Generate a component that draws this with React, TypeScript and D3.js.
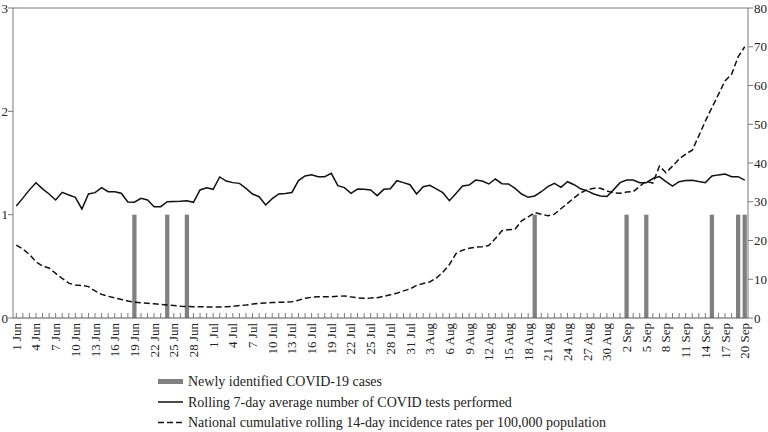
import React from "react";
import * as d3 from "d3";

// days shown on the x axis: 1 Jun .. 20 Sep (2020)
const days = d3.timeDay.range(new Date(2020, 5, 1), new Date(2020, 8, 21));
const fmtDay = d3.timeFormat("%-d %b");
const dayLabels = days.map(d => fmtDay(d));

// newly identified cases (left axis)
const caseDays = ["19 Jun", "24 Jun", "27 Jun", "19 Aug", "2 Sep", "5 Sep", "15 Sep", "19 Sep", "20 Sep"];
const caseCounts = [1, 1, 1, 1, 1, 1, 1, 1, 1];

// rolling 7-day average of tests (left axis)
const tests = [
  1.084, 1.16, 1.24, 1.309, 1.25, 1.2, 1.142, 1.216, 1.19, 1.168,
  1.055, 1.2, 1.213, 1.261, 1.222, 1.222, 1.207, 1.123, 1.12, 1.158,
  1.142, 1.077, 1.077, 1.125, 1.128, 1.13, 1.135, 1.12, 1.239, 1.261,
  1.245, 1.365, 1.325, 1.31, 1.303, 1.255, 1.2, 1.174, 1.094, 1.155,
  1.2, 1.205, 1.215, 1.33, 1.375, 1.385, 1.368, 1.368, 1.4, 1.281,
  1.262, 1.206, 1.248, 1.245, 1.239, 1.184, 1.245, 1.25, 1.329, 1.31,
  1.29, 1.2, 1.271, 1.284, 1.25, 1.213, 1.135, 1.206, 1.277, 1.287,
  1.335, 1.326, 1.297, 1.345, 1.3, 1.297, 1.255, 1.2, 1.168, 1.181,
  1.222, 1.271, 1.303, 1.265, 1.319, 1.29, 1.25, 1.23, 1.2, 1.18,
  1.175, 1.24, 1.31, 1.335, 1.335, 1.31, 1.31, 1.35, 1.368, 1.319,
  1.277, 1.319, 1.33, 1.333, 1.32, 1.31, 1.374, 1.385, 1.394, 1.368,
  1.368, 1.335,
];

// cumulative 14-day incidence per 100,000 (right axis)
const incidence = [
  18.8, 17.8, 16.4, 14.5, 13.4, 12.9, 11.5, 10.2, 9.0, 8.5,
  8.4, 8.1, 7.0, 6.1, 5.6, 5.2, 4.8, 4.4, 4.1, 3.95,
  3.8, 3.65, 3.5, 3.35, 3.2, 3.05, 2.95, 2.9, 2.9, 2.85,
  2.85, 2.85, 2.9, 3.0, 3.2, 3.35, 3.6, 3.8, 3.9, 4.0,
  4.05, 4.1, 4.2, 4.6, 5.1, 5.35, 5.5, 5.5, 5.5, 5.6,
  5.7, 5.45, 5.2, 5.1, 5.15, 5.25, 5.6, 6.0, 6.4, 7.0,
  7.5, 8.4, 8.9, 9.3, 10.3, 11.8, 13.8, 16.6, 17.5, 18.0,
  18.3, 18.4, 18.7, 20.5, 22.5, 22.8, 22.9, 25.1, 26.1, 27.2,
  26.8, 26.4, 26.8, 28.2, 29.6, 31.0, 32.3, 33.1, 33.5, 33.5,
  32.8, 32.3, 32.2, 32.5, 32.6, 34.0, 35.3, 34.8, 39.2, 37.5,
  39.2, 41.0, 42.3, 43.3, 47.0, 50.8, 54.3, 57.7, 61.2, 62.9,
  67.4, 70.0,
];

const leftTicks = [0, 1, 2, 3];
const rightTicks = [0, 10, 20, 30, 40, 50, 60, 70, 80];

const legendItems = [
  "Newly identified COVID-19 cases",
  "Rolling 7-day average number of COVID tests performed",
  "National cumulative rolling 14-day incidence rates per 100,000 population",
];

const W = 768;
const H = 432;
const m = { left: 13, right: 748, top: 8, bottom: 318 };
const font = "'Liberation Serif', 'Times New Roman', serif";
const grey = "#808080";
const axisGrey = "#7a7a7a";

const App = () => {
  const x = d3
    .scaleBand<string>()
    .domain(dayLabels)
    .range([m.left, m.right])
    .paddingInner(0.35)
    .paddingOuter(0.175);
  const cx = (d: string) => (x(d) as number) + x.bandwidth() / 2;
  const yL = d3.scaleLinear().domain([0, 3]).range([m.bottom, m.top]);
  const yR = d3.scaleLinear().domain([0, 80]).range([m.bottom, m.top]);

  const testsLine = d3
    .line<number>()
    .x((_, i) => cx(dayLabels[i]))
    .y(d => yL(d));
  const incLine = d3
    .line<number>()
    .x((_, i) => cx(dayLabels[i]))
    .y(d => yR(d));

  return (
    <svg
      width={W}
      height={H}
      style={{ position: "absolute", left: 0, top: 0, background: "#fff" }}
      fontFamily={font}
    >
      <rect width={W} height={H} fill="#fff" />

      {/* bars */}
      {caseDays.map((d, i) => (
        <rect
          key={d}
          x={x(d)}
          y={yL(caseCounts[i])}
          width={x.bandwidth()}
          height={yL(0) - yL(caseCounts[i])}
          fill={grey}
        />
      ))}

      {/* frame */}
      <path
        d={`M${m.left},${m.bottom}V${m.top}H${m.right}V${m.bottom}`}
        fill="none"
        stroke={axisGrey}
        strokeWidth={1}
      />
      <line x1={m.left} x2={m.right} y1={m.bottom} y2={m.bottom} stroke="#555" strokeWidth={1} />

      {/* bottom ticks */}
      {dayLabels.map(d => (
        <line key={d} x1={cx(d)} x2={cx(d)} y1={m.bottom} y2={m.bottom - 5} stroke={axisGrey} strokeWidth={1} />
      ))}
      {dayLabels.map((d, i) =>
        i % 3 === 0 ? (
          <text
            key={"l" + d}
            transform={`translate(${cx(d) + 4.5},${m.bottom + 5}) rotate(-90)`}
            textAnchor="end"
            fontSize={13}
            fill="#222"
          >
            {d}
          </text>
        ) : null
      )}

      {/* left axis */}
      {leftTicks.map(t => (
        <g key={"yl" + t}>
          <line x1={m.left - 5} x2={m.left} y1={yL(t)} y2={yL(t)} stroke={axisGrey} />
          <text x={m.left - 5} y={yL(t)} dy="0.35em" textAnchor="end" fontSize={13} fill="#222">
            {t}
          </text>
        </g>
      ))}

      {/* right axis */}
      {rightTicks.map(t => (
        <g key={"yr" + t}>
          <line x1={m.right} x2={m.right + 5} y1={yR(t)} y2={yR(t)} stroke={axisGrey} />
          <text x={m.right + 6} y={yR(t)} dy="0.35em" textAnchor="start" fontSize={13} fill="#222">
            {t}
          </text>
        </g>
      ))}

      {/* lines */}
      <path d={incLine(incidence) || ""} fill="none" stroke="#111" strokeWidth={1.5} strokeDasharray="6,3" />
      <path d={testsLine(tests) || ""} fill="none" stroke="#111" strokeWidth={1.5} />

      {/* legend */}
      <g transform="translate(158,0)">
        <rect x={0} y={379} width={25} height={5} fill={grey} />
        <line x1={0} x2={25} y1={402} y2={402} stroke="#111" strokeWidth={1.5} />
        <line x1={0} x2={25} y1={422.5} y2={422.5} stroke="#111" strokeWidth={1.5} strokeDasharray="6,3" />
        {legendItems.map((t, i) => (
          <text key={t} x={30} y={381.5 + i * 20.5} dy="0.35em" fontSize={14} fill="#222">
            {t}
          </text>
        ))}
      </g>
    </svg>
  );
};

export default App;
